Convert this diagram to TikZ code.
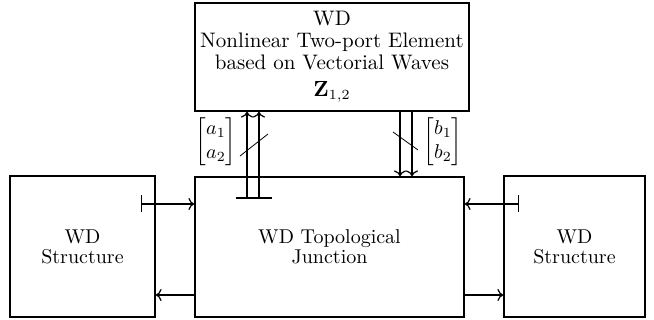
\documentclass[tikz,border=0pt]{standalone}
\usepackage{amsmath}
\usetikzlibrary{arrows.meta}
\begin{document}
\begin{tikzpicture}[x=0.5pt,y=-0.5pt,
  box/.style={draw,line width=0.6pt,inner sep=0pt,align=center,font=\fontsize{10}{10}\selectfont},
  conn/.style={line width=0.6pt},
  arr/.style={conn,-{To[length=3pt,width=6pt]}},
  barto/.style={conn,{Bar[width=8.5pt]}-{To[length=3pt,width=6pt]}},
  lbl/.style={inner sep=0pt}]
\useasboundingbox (0,0) rectangle (654,320);
\node[box,minimum width=137pt,minimum height=54pt,font=\fontsize{10.5}{10.8}\selectfont] (top) at (332,57)
  {WD\\Nonlinear Two-port Element\\based on Vectorial Waves\\[2.8pt]$\mathbf{Z}_{1,2}$};
\node[box,minimum width=134.5pt,minimum height=70pt] (ctr) at (329.5,247)
  {WD Topological\\Junction};
\node[box,minimum width=72.5pt,minimum height=70.5pt] (lft) at (82.5,246.5)
  {WD\\Structure};
\node[box,minimum width=70.5pt,minimum height=70.5pt] (rgt) at (574.5,246.5)
  {WD\\Structure};
% left side arrows
\coordinate (lb) at (141,204);
\draw[barto] (lb) -- (ctr.west |- lb);
\coordinate (lo) at (195,295);
\draw[arr] (ctr.west |- lo) -- (lft.east |- lo);
% right side arrows
\coordinate (rb) at (519,204);
\draw[barto] (rb) -- (ctr.east |- rb);
\draw[arr] (ctr.east |- lo) -- (rgt.west |- lo);
% a waves
\coordinate (tb1) at (236,198);
\coordinate (tb2) at (272,198);
\draw[conn] (tb1) -- (tb2);
\coordinate (a1) at (247,198);
\coordinate (a2) at (259,198);
\draw[arr] (a1) -- (top.south -| a1);
\draw[arr] (a2) -- (top.south -| a2);
\coordinate (as1) at (240,156);
\coordinate (as2) at (268,134);
\draw[line width=0.4pt] (as1) -- (as2);
\node[lbl] (al) at (216,142) {$\begin{bmatrix} a_1\\ a_2\end{bmatrix}$};
% b waves
\coordinate (b1) at (400,111);
\coordinate (b2) at (412,111);
\draw[arr] (top.south -| b1) -- (ctr.north -| b1);
\draw[arr] (top.south -| b2) -- (ctr.north -| b2);
\coordinate (bs1) at (393,132);
\coordinate (bs2) at (418,150);
\draw[line width=0.4pt] (bs1) -- (bs2);
\node[lbl] (bl) at (443,142) {$\begin{bmatrix} b_1\\ b_2\end{bmatrix}$};
\end{tikzpicture}
\end{document}
